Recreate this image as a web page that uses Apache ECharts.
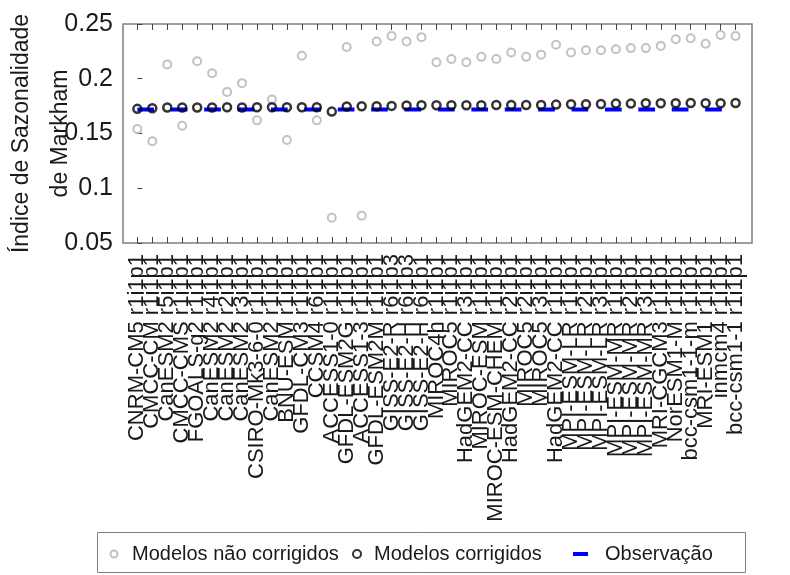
<!DOCTYPE html>
<html>
<head>
<meta charset="utf-8">
<script src="https://cdn.jsdelivr.net/npm/echarts@6/dist/echarts.min.js"></script>
<style>
  html, body { margin: 0; padding: 0; background: #ffffff; }
  #chart { width: 790px; height: 575px; }
</style>
</head>
<body>
<div id="chart"></div>
<script>
// Modelos CMIP5 (membro de ensemble), ordenados pelo índice corrigido
const modelos = [
  'CNRM-CM5 r1i1p1', 'CMCC-CM r1i1p1', 'CanESM2 r5i1p1', 'CMCC-CMS r1i1p1',
  'FGOALS-g2 r1i1p1', 'CanESM2 r4i1p1', 'CanESM2 r2i1p1', 'CanESM2 r3i1p1',
  'CSIRO-Mk3-6-0 r1i1p1', 'CanESM2 r1i1p1', 'BNU-ESM r1i1p1', 'GFDL-CM3 r1i1p1',
  'CCSM4 r6i1p1', 'ACCESS1-0 r1i1p1', 'GFDL-ESM2G r1i1p1', 'ACCESS1-3 r1i1p1',
  'GFDL-ESM2M r1i1p1', 'GISS-E2-R r6i1p3', 'GISS-E2-H r6i1p3', 'GISS-E2-H r6i1p1',
  'MIROC4h r1i1p1', 'MIROC5 r1i1p1', 'HadGEM2-CC r3i1p1', 'MIROC-ESM r1i1p1',
  'MIROC-ESM-CHEM r1i1p1', 'HadGEM2-CC r2i1p1', 'MIROC5 r2i1p1', 'MIROC5 r3i1p1',
  'HadGEM2-CC r1i1p1', 'MPI-ESM-LR r1i1p1', 'MPI-ESM-LR r2i1p1', 'MPI-ESM-LR r3i1p1',
  'MPI-ESM-MR r1i1p1', 'MPI-ESM-MR r2i1p1', 'MPI-ESM-MR r3i1p1', 'MRI-CGCM3 r1i1p1',
  'NorESM1-M r1i1p1', 'bcc-csm1-1-m r1i1p1', 'MRI-ESM1 r1i1p1', 'inmcm4 r1i1p1',
  'bcc-csm1-1 r1i1p1'
];

// Índice de Sazonalidade de Markham dos modelos sem correção
const naoCorrigidos = [
  0.154, 0.143, 0.213, 0.157, 0.216, 0.205, 0.188, 0.196, 0.162, 0.181,
  0.144, 0.221, 0.162, 0.073, 0.229, 0.075, 0.234, 0.239, 0.234, 0.238,
  0.215, 0.218, 0.215, 0.220, 0.218, 0.224, 0.220, 0.222, 0.231, 0.224,
  0.226, 0.226, 0.227, 0.228, 0.228, 0.230, 0.236, 0.237, 0.232, 0.240,
  0.239
];

// Índice dos modelos após a correção
const corrigidos = [
  0.1725, 0.1730, 0.1737, 0.1737, 0.1737, 0.1737, 0.1740, 0.1737, 0.1740, 0.1740,
  0.1740, 0.1740, 0.1740, 0.1700, 0.1746, 0.1749, 0.1749, 0.1752, 0.1755, 0.1758,
  0.1758, 0.1758, 0.1758, 0.1758, 0.1761, 0.1761, 0.1761, 0.1761, 0.1764, 0.1767,
  0.1767, 0.1770, 0.1773, 0.1773, 0.1776, 0.1776, 0.1776, 0.1779, 0.1776, 0.1776,
  0.1779
];

// Índice observado (referência)
const observacao = 0.172;

const FONT = 'Liberation Sans, Arial, Helvetica, sans-serif';
const TEXT = '#1a1a1a';
const posicoes = modelos.map((_, i) => i);
// Rótulos divididos em dois eixos (pares / ímpares) para que todos sejam desenhados
const pares = posicoes.filter(i => i % 2 === 0);
const impares = posicoes.filter(i => i % 2 === 1);
const X_MIN = -0.96, X_MAX = 41.1;

const chart = echarts.init(document.getElementById('chart'), null, { renderer: 'canvas' });

const legendText = { fontSize: 20, fontFamily: FONT, color: TEXT };
const tickStyle = { color: '#444', width: 1 };

function eixoRotulado(valores) {
  return {
    type: 'value', position: 'bottom', min: X_MIN, max: X_MAX,
    axisLine: { show: false }, splitLine: { show: false },
    axisTick: { show: true, inside: true, length: 6, customValues: valores, lineStyle: tickStyle },
    axisLabel: {
      customValues: valores, rotate: 90, margin: 11,
      showMinLabel: true, showMaxLabel: true, hideOverlap: false,
      fontSize: 22, fontFamily: FONT, color: TEXT,
      formatter: v => modelos[Math.round(v)] || ''
    }
  };
}

chart.setOption({
  animation: false,
  backgroundColor: '#ffffff',
  grid: {
    left: 123, right: 38, top: 24, bottom: 332,
    outerBoundsMode: 'none', containLabel: false,
    show: true, borderColor: '#7f7f7f', borderWidth: 1.5,
    backgroundColor: 'transparent'
  },
  xAxis: [
    eixoRotulado(pares),
    {
      type: 'value', position: 'top', min: X_MIN, max: X_MAX,
      axisLine: { show: false }, splitLine: { show: false },
      axisTick: { show: true, inside: true, length: 6, customValues: posicoes, lineStyle: tickStyle },
      axisLabel: { show: false }
    },
    eixoRotulado(impares)
  ],
  yAxis: {
    type: 'value', min: 0.05, max: 0.25, interval: 0.05,
    axisLine: { show: false }, splitLine: { show: false },
    axisTick: { show: true, inside: true, length: 5, lineStyle: tickStyle },
    axisLabel: {
      margin: 10, fontSize: 25, fontFamily: FONT, color: TEXT,
      showMinLabel: true, showMaxLabel: true,
      formatter: v => String(+v.toFixed(2))
    },
    name: 'Índice de Sazonalidade\nde Markham',
    nameLocation: 'middle', nameGap: 43, nameMoveOverlap: false,
    nameTextStyle: { fontSize: 23, lineHeight: 39, fontFamily: FONT, color: TEXT }
  },
  legend: [
    {
      data: ['Modelos não corrigidos'], left: 109.5, top: 544, padding: 0,
      itemWidth: 26, itemHeight: 7, textStyle: legendText
    },
    {
      data: ['Modelos corrigidos'], left: 352, top: 544, padding: 0,
      itemWidth: 24, itemHeight: 8, textStyle: legendText
    },
    {
      data: [{ name: 'Observação', icon: 'path://M0,0H15V4H0Z', itemStyle: { color: '#0000ff' } }],
      left: 573, top: 544, padding: 0,
      itemWidth: 39, itemHeight: 4, textStyle: legendText
    }
  ],
  graphic: [
    {
      type: 'rect', silent: true,
      shape: { x: 97.5, y: 532.5, width: 648, height: 40 },
      style: { fill: 'none', stroke: '#7f7f7f', lineWidth: 1 }
    }
  ],
  series: [
    {
      name: 'Observação', type: 'line', z: 1,
      data: posicoes.map(i => [i, observacao]),
      symbol: 'none', color: '#0000ff',
      lineStyle: { color: '#0000ff', width: 4, type: [16.7, 16.7] }
    },
    {
      name: 'Modelos não corrigidos', type: 'scatter', z: 2,
      data: naoCorrigidos.map((v, i) => [i, v]),
      symbol: 'circle', symbolSize: 8,
      itemStyle: { color: 'transparent', borderColor: '#b3b3b3', borderWidth: 2 }
    },
    {
      name: 'Modelos corrigidos', type: 'scatter', z: 3,
      data: corrigidos.map((v, i) => [i, v]),
      symbol: 'circle', symbolSize: 8,
      itemStyle: { color: 'transparent', borderColor: '#000000', borderWidth: 2.5 }
    }
  ]
});
</script>
</body>
</html>
